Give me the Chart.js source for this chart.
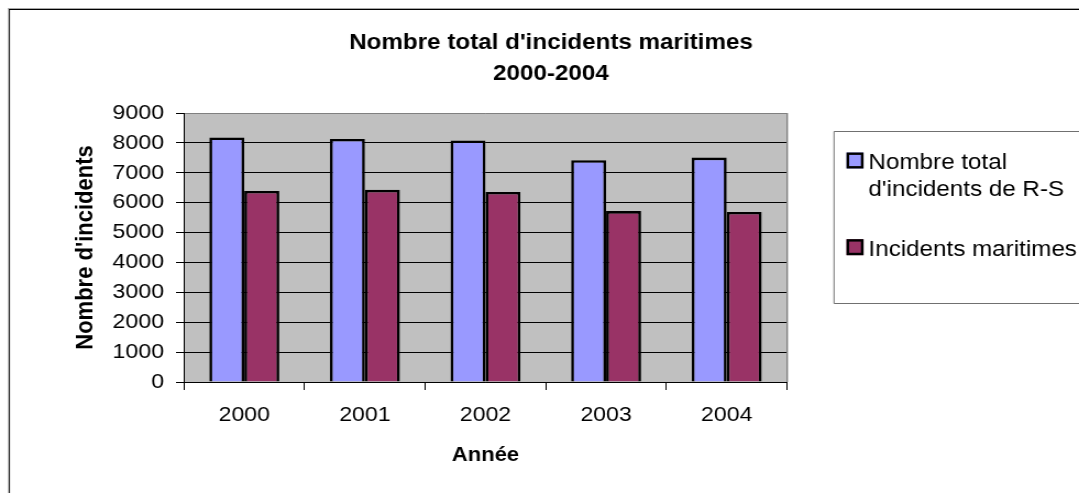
<!DOCTYPE html>
<html>
<head>
<meta charset="utf-8">
<script src="https://cdn.jsdelivr.net/npm/chart.js@4/dist/chart.umd.min.js"></script>
<style>
  html, body { margin: 0; padding: 0; background: #fff; overflow: hidden; }
  #wrap { width: 1079px; height: 493px; overflow: hidden; }
  /* the chart is drawn on a 981px canvas and widened to the full 1079px */
  #c { display: block; transform: scaleX(1.09990); transform-origin: 0 0; }
</style>
</head>
<body>
<div id="wrap"><canvas id="c" width="981" height="493"></canvas></div>
<script>
// ---- data ----
const years = ['2000', '2001', '2002', '2003', '2004'];
const totalRS = [8180, 8130, 8080, 7420, 7510];
const maritime = [6390, 6430, 6360, 5720, 5690];
const yTickValues = [0, 1000, 2000, 3000, 4000, 5000, 6000, 7000, 8000, 9000];
const seriesLabels = [["Nombre total", "d'incidents de R-S"], ["Incidents maritimes"]];
const titleLines = ["Nombre total d'incidents maritimes", "2000-2004"];
const xAxisTitle = "Année";
const yAxisTitle = "Nombre d'incidents";

// ---- look ----
const SX = 1079 / 981;               // horizontal widening of the canvas
const FONT = "'Liberation Sans', Arial, sans-serif";
const BLUE = '#9999FF';
const PLUM = '#993366';
const PLOT_BG = '#C0C0C0';

Chart.defaults.font.family = FONT;
Chart.defaults.color = '#000';

// plot background, frames, title and legend box
const decorations = {
  id: 'decorations',
  beforeDraw(chart) {
    const { ctx, chartArea: a } = chart;
    ctx.save();
    ctx.fillStyle = PLOT_BG;
    ctx.fillRect(a.left, a.top, a.right - a.left, a.bottom - a.top);
    ctx.restore();
  },
  afterDraw(chart) {
    const { ctx, chartArea: a } = chart;
    ctx.save();

    // right edge of plot area
    ctx.fillStyle = '#808080';
    ctx.fillRect(a.right - 0.5, a.top, 1.5 / SX, a.bottom - a.top);

    // outer chart frame (top and left edges)
    ctx.fillStyle = '#a8a8a8';
    ctx.fillRect(8 / SX, 8, chart.width, 1);
    ctx.fillRect(8 / SX, 8, 1 / SX, chart.height);
    ctx.fillStyle = '#000';
    ctx.fillRect(9 / SX, 9, chart.width, 1);
    ctx.fillRect(9 / SX, 9, 1 / SX, chart.height);

    // title
    ctx.fillStyle = '#000';
    ctx.font = "bold 22px " + FONT;
    ctx.textAlign = 'center';
    ctx.textBaseline = 'alphabetic';
    const tx = 551 / SX;
    ctx.fillText(titleLines[0], tx, 48.5);
    ctx.fillText(titleLines[1], tx, 79.5);

    // legend box
    const lx = 834 / SX;
    ctx.strokeStyle = '#707070';
    ctx.lineWidth = 1;
    ctx.beginPath();
    ctx.rect(lx, 131.5, chart.width, 172);
    ctx.stroke();

    // legend entries
    const entries = [
      { color: BLUE, lines: seriesLabels[0], base: 169.3 },
      { color: PLUM, lines: seriesLabels[1], base: 256 }
    ];
    ctx.font = "22px " + FONT;
    ctx.textAlign = 'left';
    entries.forEach(e => {
      const sx = 846.5 / SX, sw = 15.5, sh = 16;
      const sy = e.base - 16.8;
      ctx.fillStyle = e.color;
      ctx.fillRect(sx, sy, sw, sh);
      ctx.strokeStyle = '#000';
      ctx.lineWidth = 2.4;
      ctx.strokeRect(sx + 1.2, sy + 1.2, sw - 2.4, sh - 2.4);
      ctx.fillStyle = '#000';
      e.lines.forEach((t, i) => ctx.fillText(t, 868.5 / SX, e.base + i * 26.7));
    });

    ctx.restore();
  }
};

new Chart(document.getElementById('c'), {
  type: 'bar',
  data: {
    labels: years,
    datasets: [
      {
        label: seriesLabels[0].join(' '),
        data: totalRS,
        backgroundColor: BLUE,
        borderColor: '#000',
        borderWidth: 2.6,
        categoryPercentage: 0.58,
        barPercentage: 1.0
      },
      {
        label: seriesLabels[1].join(' '),
        data: maritime,
        backgroundColor: PLUM,
        borderColor: '#000',
        borderWidth: 2.6,
        categoryPercentage: 0.58,
        barPercentage: 1.0
      }
    ]
  },
  options: {
    responsive: false,
    animation: false,
    events: [],
    layout: { padding: { left: 0, top: 113, right: 981 - 787 / SX, bottom: 0 } },
    plugins: {
      legend: { display: false },
      title: { display: false },
      tooltip: { enabled: false }
    },
    scales: {
      x: {
        offset: true,
        grid: {
          offset: true,
          drawOnChartArea: false,
          drawTicks: true,
          tickLength: 8,
          tickColor: '#000',
          tickWidth: 1
        },
        border: { display: true, color: '#000', width: 1 },
        ticks: { font: { size: 21 }, padding: 13, color: '#000', maxRotation: 0 },
        title: {
          display: true,
          text: xAxisTitle,
          font: { size: 20, weight: 'bold' },
          color: '#000',
          padding: { top: 0, bottom: 26 }
        },
        afterFit(scale) { scale.height = 111; }
      },
      y: {
        min: 0,
        max: 9000,
        afterBuildTicks(scale) { scale.ticks = yTickValues.map(v => ({ value: v })); },
        grid: {
          color: c => (c.tick && c.tick.value === 9000 ? '#808080' : '#000'),
          lineWidth: 1,
          drawTicks: true,
          tickLength: 7.3,
          tickColor: '#000'
        },
        border: { display: true, color: '#000', width: 1 },
        ticks: {
          font: { size: 21 },
          padding: 10.9,
          color: '#000',
          callback: v => String(v)
        },
        title: {
          display: true,
          text: yAxisTitle,
          font: { size: 22, weight: 'bold' },
          color: '#000',
          padding: { top: 64.6, bottom: 0 }
        },
        afterFit(scale) { scale.width = 184 / SX; }
      }
    }
  },
  plugins: [decorations]
});
</script>
</body>
</html>
